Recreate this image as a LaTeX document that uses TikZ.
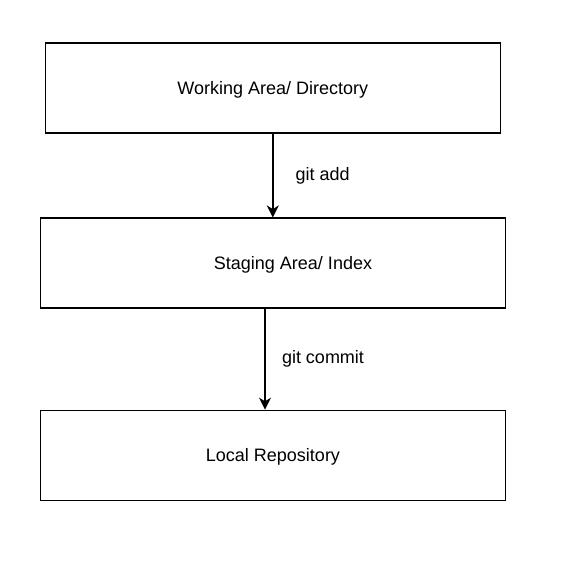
\documentclass[tikz,border=0pt]{standalone}
\usepackage{fontspec}
\setmainfont{Liberation Sans}
\usetikzlibrary{arrows.meta,positioning}

\tikzset{
    area/.style={draw, line width=1.1pt, minimum height=67.5pt, inner sep=0pt, text depth=0pt, yshift=-1pt},
    flow/.style={line width=1.1pt, -{Stealth[length=9pt, width=9pt, inset=2.8pt]}},
    cmd/.style={anchor=west, inner sep=0pt}
}

\begin{document}
\begin{tikzpicture}[x=0.75pt, y=-0.75pt, font=\fontsize{13.5}{16}\selectfont]
            \useasboundingbox (0,0) rectangle (574,586);

            % Areas
            \node[area, minimum width=341.25pt] (work) at (272.8,86.7) {Working Area/ Directory};
            \node[area, minimum width=348.75pt] (stage) at (273,261.8) {};
            \node[text depth=0pt] (stagetext) at (293,263.3) {Staging Area/ Index};
            \node[area, minimum width=348.75pt] (repo) at (273,454) {Local Repository};

            % Commands
            \draw[flow] (work.south) -- node[cmd, xshift=16.5pt] {git add} (work.south |- stage.north);
            \draw[flow] ([xshift=-6pt]stage.south) -- node[cmd, xshift=12.2pt] {git commit} ([xshift=-6pt]stage.south |- repo.north);
        \end{tikzpicture}
\end{document}
